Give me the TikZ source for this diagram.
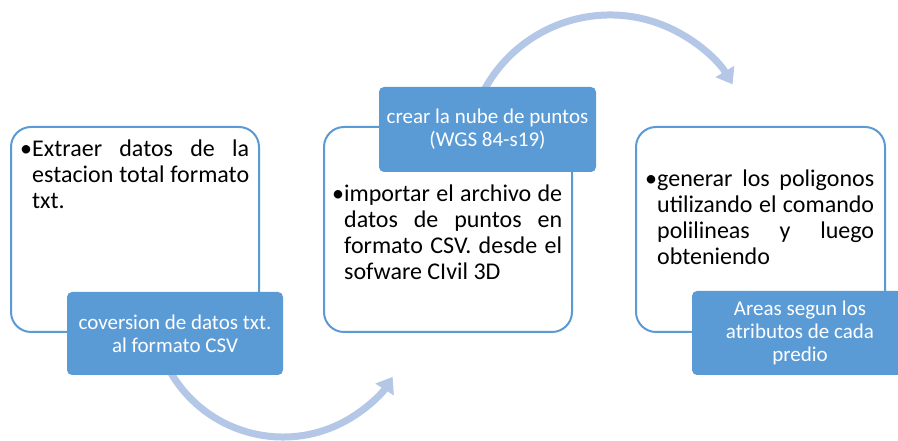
\documentclass[tikz,border=0pt]{standalone}
\usepackage{fontspec}
\setmainfont{Carlito}
\usetikzlibrary{arrows.meta}
\definecolor{accent}{HTML}{5B9BD5}
\definecolor{flowc}{HTML}{B4C7E7}
\tikzset{
  panel/.style={draw=accent, line width=2pt, rounded corners=20pt, fill=white, inner sep=0pt, anchor=south west},
  tag/.style={fill=accent, rounded corners=5pt, text=white, align=center, inner sep=0pt,
    font=\fontsize{21}{23.3}\selectfont},
  flow/.style={draw=flowc, line width=7pt, -{Triangle[length=15pt,width=21pt]}},
  body/.style={anchor=base west, inner sep=0pt, text=black}
}
\newcommand\bodytext[2]{\parbox[t]{#1}{\fontsize{24}{26}\selectfont\tolerance=10000\hbadness=10000\hyphenpenalty=10000\hangindent=12pt\hangafter=1\makebox[12pt][l]{•}#2}}
\begin{document}
\begin{tikzpicture}[x=1pt,y=1pt]
\useasboundingbox (0,0) rectangle (898,441);
\clip (0,0) rectangle (898,441);
% arrows
\coordinate (c1) at (283,134);
\coordinate (c2) at (610,283);
\draw[flow] (c1) ++(210:130) arc[start angle=210, end angle=327.5, radius=130];
\draw[flow] (c2) ++(155:143) arc[start angle=155, end angle=31, radius=143];
% panels
\node[panel, minimum width=248pt, minimum height=205pt] (p1) at (10,108) {};
\node[panel, minimum width=248pt, minimum height=205pt] (p2) at (323,108) {};
\node[panel, minimum width=249pt, minimum height=205pt] (p3) at (635,108) {};
% tags
\node[tag, minimum width=216pt, minimum height=83pt] (t1) at (175,107.5) {coversion de datos txt.\\al formato CSV};
\node[tag, minimum width=217pt, minimum height=85pt] (t2) at (487.5,311.5) {crear la nube de puntos\\(WGS 84-s19)};
\node[tag, minimum width=216pt, minimum height=84pt] (t3) at (800,108) {Areas segun los\\atributos de cada\\predio};
% body texts
\node[body] (b1) at (20,284) {\bodytext{229pt}{Extraer datos de la\linebreak estacion total formato\linebreak txt.}};
\node[body] (b2) at (332,239) {\bodytext{230pt}{importar el archivo de\linebreak datos de puntos en\linebreak formato CSV. desde el\linebreak sofware CIvil 3D}};
\node[body] (b3) at (645,254) {\bodytext{229pt}{generar los poligonos\linebreak utilizando el comando\linebreak polilineas y luego\linebreak obteniendo}};
\end{tikzpicture}
\end{document}
